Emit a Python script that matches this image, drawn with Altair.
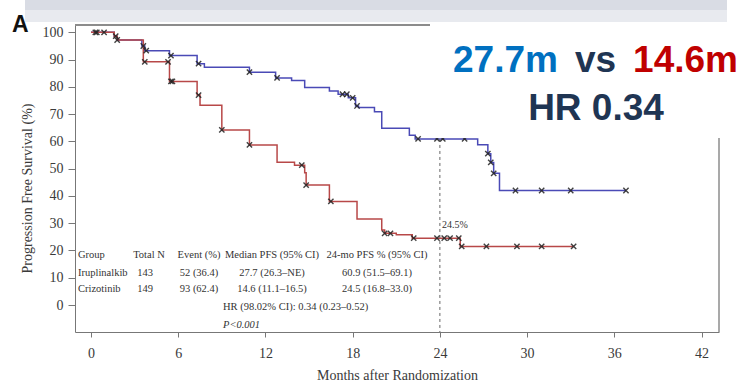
import altair as alt
import pandas as pd

# ---- data ----
iru_t = [0, 1.6, 1.8, 3.5, 3.7, 5.4, 7.3, 7.8, 10.9, 12.7, 13.8, 14.7, 16.4, 17.0, 17.7, 18.2, 18.4,
         19.5, 20.0, 21.9, 22.3, 26.6, 27.3, 27.5, 27.7, 28.1, 36.8]
iru_s = [100, 98.6, 97.2, 95.0, 93.3, 91.5, 88.5, 87.2, 85.4, 83.3, 82.3, 79.8, 78.5, 77.3, 76.0, 73.0, 72.4,
         70.9, 64.8, 62.3, 60.9, 58.8, 55.5, 52.3, 48.3, 42.0, 42.0]
criz_t = [0, 1.6, 1.8, 3.6, 5.4, 7.3, 7.5, 9.0, 10.9, 12.8, 14.0, 14.7, 14.8, 16.4, 18.3, 20.0, 20.2,
          21.0, 22.1, 25.4, 33.2]
criz_s = [100, 98.6, 97.2, 89.2, 82.0, 77.0, 73.3, 64.2, 58.7, 52.4, 51.3, 48.5, 44.0, 38.0, 31.5, 27.5, 26.3,
          25.8, 24.5, 21.5, 21.5]
iru_censor = [0.4, 0.9, 1.7, 3.6, 3.8, 5.5, 7.4, 10.9, 12.8, 17.3, 17.6, 18.0, 18.3, 22.5, 23.8, 24.2,
              25.7, 27.3, 27.5, 27.7, 29.2, 31.0, 33.0, 36.8]
criz_censor = [0.3, 1.8, 3.7, 5.3, 5.5, 5.6, 7.4, 9.0, 10.9, 14.5, 14.8, 16.5, 20.2, 20.6, 22.2, 23.8,
               24.3, 24.7, 25.3, 25.5, 27.2, 29.3, 31.0, 33.2]
groups = ["Iruplinalkib", "Crizotinib"]
x_ticks = [0, 6, 12, 18, 24, 30, 36, 42]
y_ticks = [0, 10, 20, 30, 40, 50, 60, 70, 80, 90, 100]
landmark_month = [24]
landmark_iru = [60.9]
landmark_label = ["24.5%"]
landmark_label_y = [29.3]

table_header = ["Group", "Total N", "Event (%)", "Median PFS (95% CI)", "24-mo PFS % (95% CI)"]
table_rows = [
    ["Iruplinalkib", "143", "52 (36.4)", "27.7 (26.3–NE)", "60.9 (51.5–69.1)"],
    ["Crizotinib", "149", "93 (62.4)", "14.6 (11.1–16.5)", "24.5 (16.8–33.0)"],
]
hr_text = "HR (98.02% CI): 0.34 (0.23–0.52)"
p_text = "P<0.001"
headline_a = "27.7m"
headline_vs = "vs"
headline_b = "14.6m"
headline_hr = "HR 0.34"
panel_label = "A"

# ---- build tables ----
curves = pd.concat([
    pd.DataFrame({"t": iru_t, "s": iru_s, "g": groups[0]}),
    pd.DataFrame({"t": criz_t, "s": criz_s, "g": groups[1]}),
])


def step_val(ts, ss, x):
    v = ss[0]
    for t, s in zip(ts, ss):
        if t <= x:
            v = s
    return v


cens = pd.concat([
    pd.DataFrame({"t": iru_censor, "s": [step_val(iru_t, iru_s, c) for c in iru_censor], "g": groups[0]}),
    pd.DataFrame({"t": criz_censor, "s": [step_val(criz_t, criz_s, c) for c in criz_censor], "g": groups[1]}),
])

XD = [-1.1, 43.2]
YD = [-9.9, 102.7]
xs = alt.Scale(domain=XD, nice=False, zero=False)
ys = alt.Scale(domain=YD, nice=False, zero=False)
SERIF = "Liberation Serif"
SANS = "Liberation Sans"
W, H = 644, 307

xaxis = alt.Axis(values=x_ticks, title="Months after Randomization",
                 labelFont=SERIF, labelFontSize=14, labelColor="#3a3a3a",
                 titleFont=SERIF, titleFontSize=14, titleFontWeight="normal",
                 titleColor="#3a3a3a", tickSize=5, labelPadding=9, titlePadding=8,
                 domainColor="#777", tickColor="#777", grid=False, labelOverlap=False)
yaxis = alt.Axis(values=y_ticks, title="Progression Free Survival (%)",
                 labelFont=SERIF, labelFontSize=14, labelColor="#3a3a3a",
                 titleFont=SERIF, titleFontSize=14, titleFontWeight="normal",
                 titleColor="#3a3a3a", tickSize=7, labelPadding=5, titlePadding=8, titleY=163,
                 domainColor="#777", tickColor="#777", grid=False, labelOverlap=False)

lines = alt.Chart(curves).mark_line(interpolate="step-after", strokeWidth=1.5).encode(
    x=alt.X("t:Q", scale=xs, axis=xaxis),
    y=alt.Y("s:Q", scale=ys, axis=yaxis),
    color=alt.Color("g:N", scale=alt.Scale(domain=groups, range=["#4a4ab6", "#b84848"]), legend=None),
)

xshape = "M-1,-1L1,1M1,-1L-1,1"
marks = alt.Chart(cens).mark_point(shape=xshape, filled=False, size=28, strokeWidth=1.4, color="#222",
                                    opacity=0.85).encode(
    x=alt.X("t:Q", scale=xs, axis=xaxis), y=alt.Y("s:Q", scale=ys, axis=yaxis))

lm = pd.DataFrame({"t": landmark_month, "s": landmark_iru, "lab": landmark_label,
                   "ly": landmark_label_y, "bottom": [YD[0]]})
dash = alt.Chart(lm).mark_rule(strokeDash=[3, 3], color="#666", strokeWidth=1).encode(
    x=alt.X("t:Q", scale=xs, axis=xaxis), y=alt.Y("s:Q", scale=ys, axis=yaxis), y2="bottom:Q")
lab245 = alt.Chart(lm).mark_text(align="left", dx=2, font=SERIF, fontSize=10, color="#333").encode(
    x=alt.X("t:Q", scale=xs, axis=xaxis), y=alt.Y("ly:Q", scale=ys, axis=yaxis), text="lab:N")

one = pd.DataFrame({"d": [0]})
frame_top = alt.Chart(one).mark_rule(color="#8c8c8c", strokeWidth=2).encode(
    x=alt.value(0), x2=alt.value(W), y=alt.value(0))
frame_right = alt.Chart(one).mark_rule(color="#8c8c8c", strokeWidth=1.5).encode(
    x=alt.value(W), y=alt.value(0), y2=alt.value(H))


def txt(s, x, y, **kw):
    return alt.Chart(pd.DataFrame({"t": [s]})).mark_text(**kw).encode(
        x=alt.value(x), y=alt.value(y), text="t:N")


tkw = dict(font=SERIF, fontSize=10.5, color="#333", baseline="middle")
col_x = [3, 74, 124, 197, 302]
col_align = ["left", "center", "center", "center", "center"]
row_y = [230, 247.5, 264]
layers = []
for j, h in enumerate(table_header):
    layers.append(txt(h, col_x[j], row_y[0], align=col_align[j], **tkw))
for i, row in enumerate(table_rows):
    for j, c in enumerate(row):
        cx = col_x[j] if j != 1 else 70
        layers.append(txt(c, cx, row_y[i + 1], align=col_align[j], **tkw))
layers.append(txt(hr_text, 148, 282, align="left", **tkw))
layers.append(txt(p_text, 148, 300, align="left", fontStyle="italic", **tkw))

band1 = alt.Chart(one).mark_rect(color="#d9dce4").encode(
    x=alt.value(-50), x2=alt.value(652), y=alt.value(-25), y2=alt.value(-15))
band2 = alt.Chart(one).mark_rect(color="#e8eaef").encode(
    x=alt.value(-50), x2=alt.value(652), y=alt.value(-15), y2=alt.value(-3))
box = alt.Chart(one).mark_rect(color="white").encode(
    x=alt.value(355), x2=alt.value(665), y=alt.value(-2), y2=alt.value(113))

hkw = dict(font=SANS, fontSize=37, fontWeight="bold", baseline="alphabetic")
h1 = txt(headline_a, 378, 47, align="left", color="#0070c0", **hkw)
h2 = txt(headline_vs, 500, 47, align="left", color="#1f3553", **hkw)
h3 = txt(headline_b, 663, 47, align="right", color="#c00000", **hkw)
h4 = txt(headline_hr, 521, 95, align="center", color="#1f3553", **hkw)
pA = txt(panel_label, -63, 7, align="left", font=SANS, fontSize=23, fontWeight="bold",
         baseline="alphabetic", color="#111")

chart = alt.layer(
    band1, band2, frame_top, frame_right, lines, dash, marks, lab245, *layers, box, h1, h2, h3, h4, pA
).properties(
    width=W, height=H,
    autosize=alt.AutoSizeParams(type="none"),
    padding={"left": 75, "top": 25, "right": 21, "bottom": 56},
    background="white",
).configure_view(stroke=None)

chart.save("out.html", embed_options={"renderer": "svg", "actions": False})
